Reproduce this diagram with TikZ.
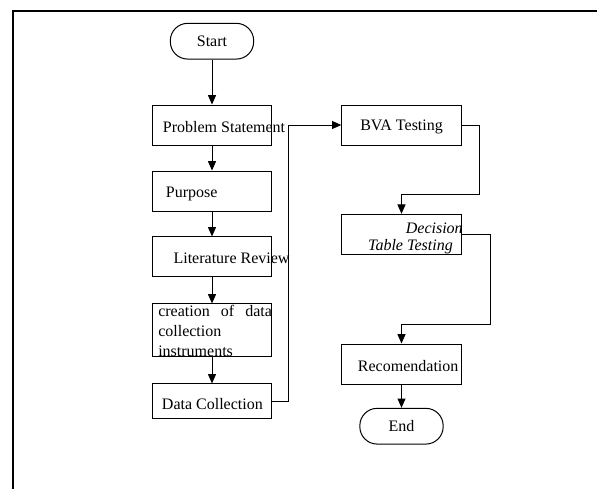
\documentclass[tikz,border=0pt]{standalone}
\usepackage{fontspec}
\setmainfont{Liberation Serif}
\usetikzlibrary{arrows.meta}

\begin{document}
\begin{tikzpicture}[x=0.75pt,y=0.75pt,yscale=-1,xscale=1,
  stepbox/.style={draw,line width=0.75pt,minimum width=89.5pt,minimum height=30pt,inner sep=0pt},
  termbox/.style={draw,line width=0.75pt,rounded corners=13pt,minimum width=62.5pt,minimum height=26.8pt,inner sep=0pt,font=\fontsize{12}{14}\selectfont},
  txt/.style={inner sep=0pt,anchor=west,font=\fontsize{12}{14}\selectfont},
  arr/.style={line width=0.75pt,-{Triangle[length=7pt,width=6pt]}}]

\useasboundingbox (0,0) rectangle (597,489);
\draw[line width=1.5pt] (12.7,489) -- (12.7,11) -- (597,11);

\node[termbox] (start) at (212,41.2) {Start};
\node[stepbox] (ps) at (212,125) {};
\node[stepbox] (pur) at (212,191) {};
\node[stepbox,minimum height=29.8pt] (lr) at (212,256.8) {};
\node[stepbox,minimum height=39.5pt] (cdi) at (212,330.3) {};
\node[stepbox,minimum height=25.9pt] (dc) at (212,401.2) {};

\node[stepbox] (bva) at (401.5,125) {};
\node[stepbox] (dtt) at (401.5,234.3) {};
\node[stepbox] (rec) at (401.5,364) {};
\node[termbox] (end) at (401.5,426.2) {End};

\node[txt] (psT) at (162.7,126.7) {Problem Statement};
\node[txt] (purT) at (165.7,194) {Purpose};
\node[txt] (lrT) at (173.3,258.5) {Literature Review};
\node[txt,anchor=north west,align=left,font=\fontsize{12}{15}\selectfont] (cdiT) at (158,305) {\makebox[85.3pt][s]{creation of data}\\collection\\instruments};
\node[txt] (dcT) at (161.7,404) {Data Collection};
\node[txt] (bvaT) at (360,126.7) {BVA Testing};
\node[txt,anchor=north east,align=right,font=\itshape\fontsize{12}{13}\selectfont] (dttT) at (463,222.8) {Decision\\Table Testing\hspace*{7.5pt}};
\node[txt] (recT) at (357.7,366) {Recomendation};

\draw[arr] (start) -- (ps);
\draw[arr] (ps) -- (pur);
\draw[arr] (pur) -- (lr);
\draw[arr] (lr) -- (cdi);
\draw[arr] (cdi) -- (dc);

\coordinate (dcOut) at (288.3,401.2);
\draw[arr] (dc.east) -- (dcOut) |- (bva.west);
\coordinate (bvaTurn) at (479,194.3);
\draw[arr] (bva.east) -| (bvaTurn) -| (dtt.north);
\coordinate (dttTurn) at (490.7,324);
\draw[arr] (dtt.east) -| (dttTurn) -| (rec.north);
\draw[arr] (rec) -- (end);

\end{tikzpicture}
\end{document}
